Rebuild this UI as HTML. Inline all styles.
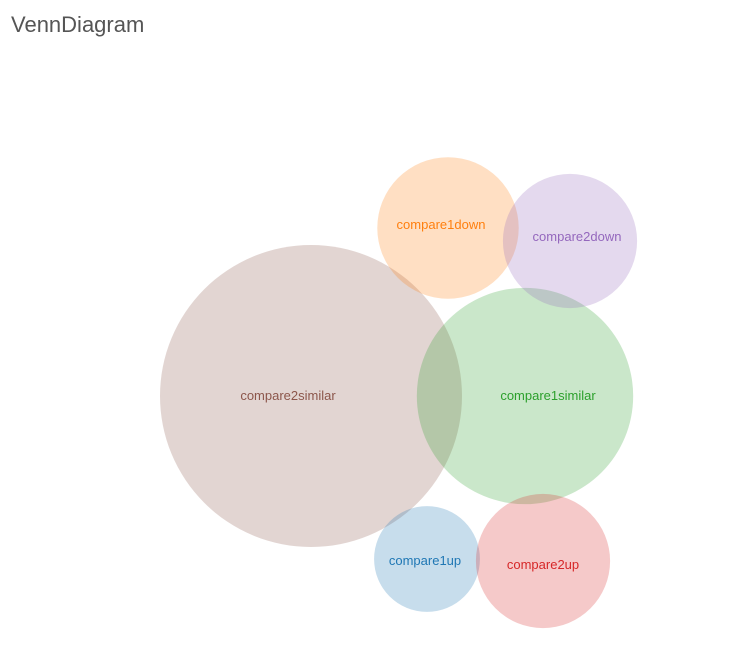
<!DOCTYPE html>
<html><head><meta charset="utf-8"><style>
body{margin:0;background:#fff;width:732px;height:646px;overflow:hidden;font-family:"Liberation Sans",sans-serif}
#title{position:absolute;left:11px;top:12px;font-size:22px;color:#555}
svg{position:absolute;left:0;top:0}
</style></head><body>
<div id="title">VennDiagram</div>
<svg id="chart" width="732" height="646"></svg>
<script>
const setNames = ["compare2similar","compare1similar","compare1down","compare2down","compare1up","compare2up"];
const setSizes = [228, 117, 50, 45, 28, 45];
const layoutX = [311, 525, 448, 570, 427, 543];
const layoutY = [396, 396, 228, 241, 559, 561];
const labelX = [288, 548, 441, 577, 425, 543];
const labelY = [396, 396, 225, 237, 561, 565];
const colors = ["#8c564b","#2ca02c","#ff7f0e","#9467bd","#1f77b4","#d62728"];
const rScale = v => 10*Math.sqrt(v);
const NS="http://www.w3.org/2000/svg";
const svg=document.getElementById('chart');
setNames.forEach((n,i)=>{
  const c=document.createElementNS(NS,'circle');
  c.setAttribute('cx',layoutX[i]);c.setAttribute('cy',layoutY[i]);c.setAttribute('r',rScale(setSizes[i]));
  c.setAttribute('fill',colors[i]);c.setAttribute('fill-opacity','0.25');
  
  
  svg.appendChild(c);
});
setNames.forEach((n,i)=>{
  const t=document.createElementNS(NS,'text');
  t.setAttribute('x',labelX[i]);t.setAttribute('y',labelY[i]+4);
  t.setAttribute('text-anchor','middle');t.setAttribute('font-size','13');
  t.setAttribute('fill',colors[i]);t.textContent=n;
  
  
  svg.appendChild(t);
});
</script>
</body></html>
